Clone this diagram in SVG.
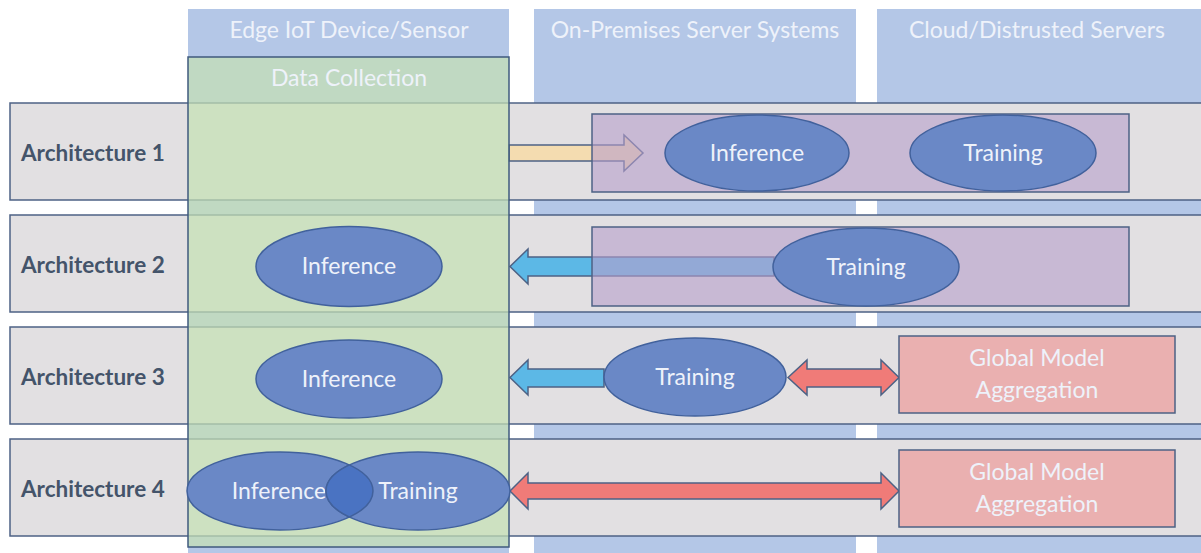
<svg xmlns="http://www.w3.org/2000/svg" width="1201" height="553" viewBox="0 0 1201 553">
<style>
  text { font-family: Lato, "Open Sans", "Liberation Sans", sans-serif; }
  .col { fill: #b4c7e7; }
  .hdr { fill: #eef2fa; font-size: 23px; text-anchor: middle; }
  .row { fill: #e2e0e2; stroke: #4d6285; stroke-width: 1.5; }
  .lbl { fill: #44546a; font-size: 22.5px; font-weight: bold; }
  .green { fill: #c5e0b4; fill-opacity: 0.72; stroke: #3f5a7e; stroke-width: 1.5; }
  .purple { fill: #b79fcc; fill-opacity: 0.6; stroke: #4d6285; stroke-width: 1.5; }
  .ell { fill: #6a88c6; stroke: #41619c; stroke-width: 1.5; }
  .ov { fill: #4a73c2; stroke: #41619c; stroke-width: 1.5; }
  .etx { fill: #eef2fa; font-size: 23px; text-anchor: middle; }
  .gma { fill: #eab0b0; stroke: #4d6285; stroke-width: 1.5; }
  .tan { fill: #f4dcb0; stroke: #4d6285; stroke-width: 1.5; }
  .cyan { fill: #5cb8e6; stroke: #4d6285; stroke-width: 1.5; }
  .red { fill: #f07b78; stroke: #4d6285; stroke-width: 1.5; }
</style>
<defs>
  <clipPath id="clipInf4"><ellipse cx="280" cy="491" rx="93" ry="39"/></clipPath>
  <clipPath id="clipTr4"><ellipse cx="418" cy="491" rx="92" ry="39"/></clipPath>
</defs>
<rect width="1201" height="553" fill="#ffffff"/>

<g id="columns">
  <rect class="col" x="188" y="9" width="321" height="544"/>
  <rect class="col" x="534" y="9" width="322" height="544"/>
  <rect class="col" x="877" y="9" width="324" height="544"/>
  <text class="hdr" x="349" y="38">Edge IoT Device/Sensor</text>
  <text class="hdr" x="695" y="38">On-Premises Server Systems</text>
  <text class="hdr" x="1037" y="38">Cloud/Distrusted Servers</text>
</g>

<g id="rows">
  <g id="row1"><rect class="row" x="10" y="103" width="1195" height="97"/><text class="lbl" x="21" y="161">Architecture 1</text></g>
  <g id="row2"><rect class="row" x="10" y="215" width="1195" height="97"/><text class="lbl" x="21" y="273">Architecture 2</text></g>
  <g id="row3"><rect class="row" x="10" y="327" width="1195" height="97"/><text class="lbl" x="21" y="385">Architecture 3</text></g>
  <g id="row4"><rect class="row" x="10" y="439" width="1195" height="97"/><text class="lbl" x="21" y="497">Architecture 4</text></g>
</g>

<g id="connectors">
  <polygon class="tan" points="509,145 624,145 624,135 643,153 624,171 624,161 509,161"/>
  <polygon class="cyan" points="774,257 528,257 528,249 510,266.5 528,284 528,276 774,276"/>
  <polygon class="cyan" points="604,369 528,369 528,360 510,377.5 528,395 528,387 604,387"/>
  <polygon class="red" points="788,377.5 807,360 807,369 881,369 881,360 899,377.5 881,395 881,387 807,387 807,395"/>
  <polygon class="red" points="510,491 528,473 528,483 881,483 881,473 899,491 881,509 881,499 528,499 528,509"/>
</g>

<g id="data-collection">
  <rect class="green" x="188" y="57" width="321" height="490"/>
  <text class="hdr" x="349" y="86">Data Collection</text>
</g>

<g id="cloud-box-1"><rect class="purple" x="592" y="114" width="537" height="78"/></g>
<g id="cloud-box-2"><rect class="purple" x="592" y="227" width="537" height="79"/></g>

<g id="inference-1"><ellipse class="ell" cx="757" cy="153" rx="92" ry="38"/><text class="etx" x="757" y="161">Inference</text></g>
<g id="training-1"><ellipse class="ell" cx="1003" cy="153" rx="93" ry="38"/><text class="etx" x="1003" y="161">Training</text></g>

<g id="inference-2"><ellipse class="ell" cx="349" cy="266.5" rx="93" ry="40"/><text class="etx" x="349" y="274">Inference</text></g>
<g id="training-2"><ellipse class="ell" cx="866" cy="267" rx="93" ry="39"/><text class="etx" x="866" y="275">Training</text></g>

<g id="inference-3"><ellipse class="ell" cx="349" cy="379" rx="93" ry="39"/><text class="etx" x="349" y="387">Inference</text></g>
<g id="training-3"><ellipse class="ell" cx="695" cy="377" rx="91" ry="39"/><text class="etx" x="695" y="385">Training</text></g>
<g id="aggregation-3"><rect class="gma" x="899" y="336" width="276" height="77"/><text class="etx" x="1037" y="366">Global Model</text><text class="etx" x="1037" y="398">Aggregation</text></g>

<g id="inference-4"><ellipse class="ell" cx="280" cy="491" rx="93" ry="39"/><text class="etx" x="279" y="499">Inference</text></g>
<g id="training-4">
  <ellipse class="ell" cx="418" cy="491" rx="92" ry="39"/>
  <ellipse class="ov" cx="418" cy="491" rx="92" ry="39" clip-path="url(#clipInf4)"/>
  <ellipse cx="280" cy="491" rx="93" ry="39" fill="none" stroke="#41619c" stroke-width="1.5" clip-path="url(#clipTr4)"/>
  <text class="etx" x="418" y="499">Training</text>
</g>
<g id="aggregation-4"><rect class="gma" x="899" y="450" width="276" height="77"/><text class="etx" x="1037" y="480">Global Model</text><text class="etx" x="1037" y="512">Aggregation</text></g>
</svg>
